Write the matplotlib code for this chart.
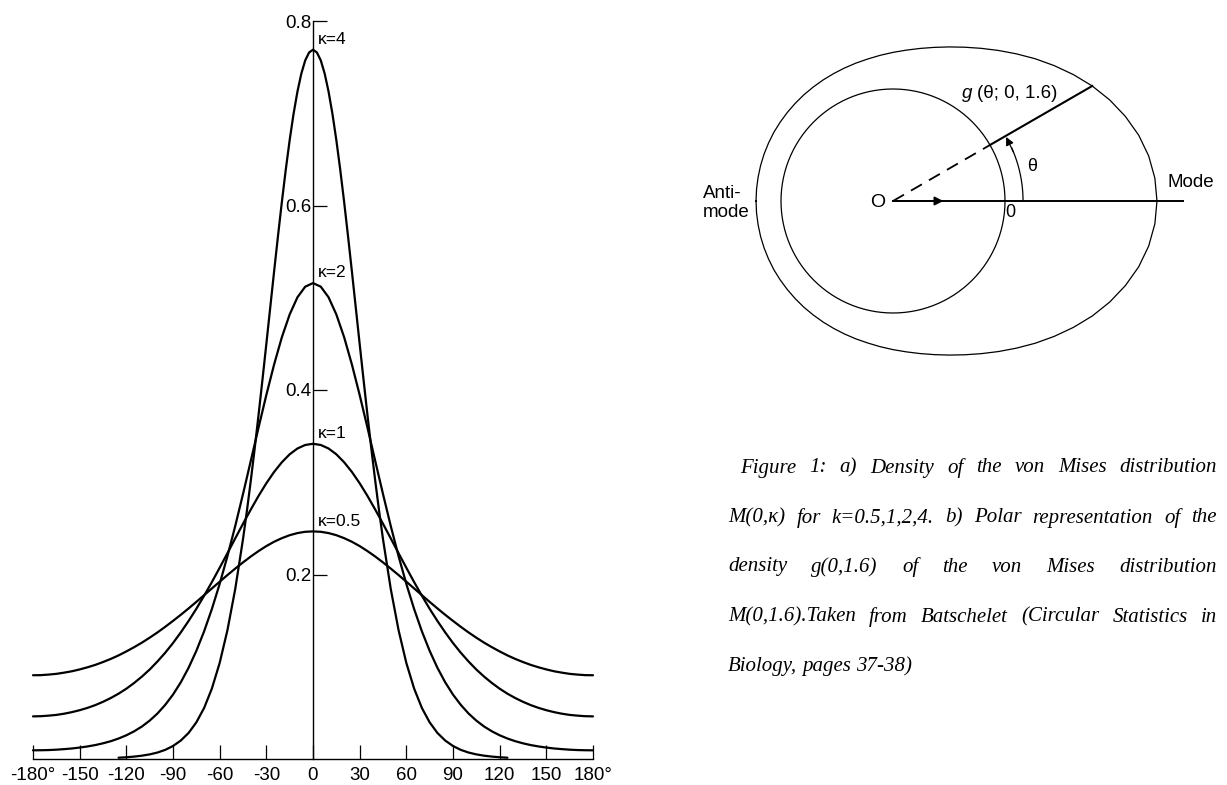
import numpy as np
import matplotlib
matplotlib.use('Agg')
import matplotlib.pyplot as plt

# ---------------- data ----------------
# a) von Mises densities M(0, kappa); curves are symmetric, values for angles >= 0
angles_half = list(range(0, 185, 5))
dens_k05 = [0.2467, 0.2463, 0.2449, 0.2426, 0.2394, 0.2355, 0.2308, 0.2254, 0.2195, 0.2131,
            0.2064, 0.1994, 0.1922, 0.1849, 0.1776, 0.1703, 0.1632, 0.1563, 0.1497, 0.1433,
            0.1372, 0.1315, 0.1261, 0.1212, 0.1166, 0.1123, 0.1085, 0.1051, 0.1020, 0.0994,
            0.0971, 0.0951, 0.0936, 0.0923, 0.0915, 0.0909, 0.0908]
dens_k1 = [0.3417, 0.3404, 0.3366, 0.3303, 0.3217, 0.3112, 0.2989, 0.2852, 0.2704, 0.2550,
           0.2391, 0.2231, 0.2073, 0.1918, 0.1770, 0.1628, 0.1496, 0.1372, 0.1257, 0.1152,
           0.1057, 0.0970, 0.0893, 0.0824, 0.0762, 0.0708, 0.0661, 0.0620, 0.0584, 0.0554,
           0.0529, 0.0508, 0.0491, 0.0478, 0.0470, 0.0464, 0.0462]
dens_k2 = [0.5159, 0.5120, 0.5005, 0.4819, 0.4573, 0.4277, 0.3946, 0.3593, 0.3231, 0.2872,
           0.2525, 0.2199, 0.1898, 0.1626, 0.1384, 0.1172, 0.0988, 0.0831, 0.0698, 0.0587,
           0.0493, 0.0416, 0.0352, 0.0300, 0.0257, 0.0222, 0.0193, 0.0170, 0.0151, 0.0136,
           0.0124, 0.0114, 0.0107, 0.0101, 0.0097, 0.0095, 0.0094]
# kappa = 4 is read more densely near its sharp peak; it merges with the axis beyond 125 deg
angles_k4 = [0, 2.5, 5, 7.5, 10, 12.5, 15, 17.5, 20, 22.5, 25, 27.5, 30, 32.5, 35, 37.5, 40,
             42.5, 45, 50, 55, 60, 65, 70, 75, 80, 85, 90, 95, 100, 105, 110, 115, 120, 125]
dens_k4 = [0.7689, 0.7659, 0.7573, 0.7430, 0.7235, 0.6993, 0.6709, 0.6389, 0.6041, 0.5670,
           0.5286, 0.4893, 0.4499, 0.4110, 0.3730, 0.3364, 0.3016, 0.2688, 0.2383, 0.1842,
           0.1397, 0.1041, 0.0764, 0.0553, 0.0397, 0.0282, 0.0200, 0.0141, 0.0099, 0.0070,
           0.0050, 0.0036, 0.0026, 0.0019, 0.0014]
kappa_labels = ['κ=0.5', 'κ=1', 'κ=2', 'κ=4']

xticks = [-180, -150, -120, -90, -60, -30, 0, 30, 60, 90, 120, 150, 180]
xtick_labels = ['-180°', '-150', '-120', '-90', '-60', '-30', '0', '30', '60', '90',
                '120', '150', '180°']
yticks = [0.2, 0.4, 0.6, 0.8]
ytick_labels = ['0.2', '0.4', '0.6', '0.8']

# b) polar representation: outer curve radius (inner circle radius = 1), 0..180 deg every 5 deg
polar_angles_half = list(range(0, 185, 5))
outer_r_half = [2.357, 2.347, 2.318, 2.271, 2.208, 2.135, 2.054, 1.967, 1.880, 1.796,
                1.715, 1.641, 1.574, 1.515, 1.464, 1.420, 1.383, 1.352, 1.327, 1.306,
                1.288, 1.275, 1.264, 1.255, 1.248, 1.242, 1.238, 1.234, 1.231, 1.229,
                1.228, 1.226, 1.225, 1.224, 1.223, 1.223, 1.223]
inner_r = 1.0
theta_example = 30  # degrees

caption_lines = [
    "Figure 1: a) Density of the von Mises distribution",
    "M(0,κ) for k=0.5,1,2,4. b) Polar representation of the",
    "density g(0,1.6) of the von Mises distribution",
    "M(0,1.6).Taken from Batschelet (Circular Statistics in",
    "Biology, pages 37-38)",
]

# ---------------- figure ----------------
plt.rcParams['font.family'] = ['Liberation Sans', 'DejaVu Sans']
W, H = 1227, 785
fig = plt.figure(figsize=(W / 100, H / 100), dpi=100)


def px_rect(x0, y0, x1, y1):
    return [x0 / W, 1 - y1 / H, (x1 - x0) / W, (y1 - y0) / H]


def mirror(v):
    v = np.asarray(v, float)
    return np.concatenate([v[:0:-1], v])


def mirror_angles(a):
    a = np.asarray(a, float)
    return np.concatenate([-a[:0:-1], a])


# ---- left panel ----
ax = fig.add_axes(px_rect(33, 21, 593, 759))
curves = [(angles_half, dens_k05), (angles_half, dens_k1), (angles_half, dens_k2),
          (angles_k4, dens_k4)]
for (a, d), lab in zip(curves, kappa_labels):
    ax.plot(mirror_angles(a), mirror(d), color='black', lw=1.6, clip_on=False,
            solid_joinstyle='round', solid_capstyle='round')
    ax.annotate(lab, xy=(0, max(d)), xytext=(3.2, 7.5), textcoords='offset points',
                ha='left', va='center', fontsize=12.5)

ax.set_xlim(-180, 180)
ax.set_ylim(0, 0.8)
ax.spines['top'].set_visible(False)
ax.spines['right'].set_visible(False)
ax.spines['left'].set_position(('data', 0))
ax.spines['left'].set_linewidth(1.0)
ax.spines['bottom'].set_linewidth(1.0)
ax.set_xticks(xticks)
ax.set_xticklabels(xtick_labels)
ax.set_yticks(yticks)
ax.set_yticklabels(ytick_labels)
ax.tick_params(axis='both', direction='in', length=10, width=0.9, labelsize=13.5)
ax.tick_params(axis='y', pad=1.0)
ax.tick_params(axis='x', pad=6)
ax.patch.set_visible(False)

# ---- right panel: polar representation ----
ax2 = fig.add_axes(px_rect(690, 0, 1227, 400))
u = 112.0
ax2.set_xlim((690 - 893) / u, (1227 - 893) / u)
ax2.set_ylim((201 - 400) / u, 201 / u)
ax2.axis('off')

t = np.linspace(0, 2 * np.pi, 361)
ax2.plot(inner_r * np.cos(t), inner_r * np.sin(t), color='black', lw=0.9)

pa_full = np.deg2rad(mirror_angles(polar_angles_half))
r_full = mirror(outer_r_half)
ax2.plot(r_full * np.cos(pa_full), r_full * np.sin(pa_full), color='black', lw=0.9,
         solid_joinstyle='round')

# mode line with arrow
ax2.plot([0, 2.589], [0, 0], color='black', lw=1.4)
ax2.annotate('', xy=(0.45, 0), xytext=(0.0, 0),
             arrowprops=dict(arrowstyle='-|>', color='black', lw=1.2, mutation_scale=13,
                             shrinkA=0, shrinkB=0))

th = np.deg2rad(theta_example)
r_out = outer_r_half[polar_angles_half.index(theta_example)]
ax2.plot([0, inner_r * np.cos(th)], [0, inner_r * np.sin(th)], color='black', lw=1.3,
         ls=(0, (7, 4.5)))
ax2.plot([inner_r * np.cos(th), r_out * np.cos(th)], [inner_r * np.sin(th), r_out * np.sin(th)],
         color='black', lw=1.5)

# theta arc with arrow
R = 1.161
ta = np.deg2rad(np.linspace(0, 24, 40))
ax2.plot(R * np.cos(ta), R * np.sin(ta), color='black', lw=0.9)
a1, a2 = np.deg2rad(22), np.deg2rad(theta_example - 0.5)
ax2.annotate('', xy=(R * np.cos(a2), R * np.sin(a2)), xytext=(R * np.cos(a1), R * np.sin(a1)),
             arrowprops=dict(arrowstyle='-|>', color='black', lw=0.9, mutation_scale=12,
                             shrinkA=0, shrinkB=0))

ax2.text(-0.134, -0.01, 'O', ha='center', va='center', fontsize=14)
ax2.text(-1.696, 0.071, 'Anti-', ha='left', va='center', fontsize=13.5)
ax2.text(-1.696, -0.107, 'mode', ha='left', va='center', fontsize=13.5)
ax2.text(2.455, 0.161, 'Mode', ha='left', va='center', fontsize=13.5)
ax2.text(1.045, -0.107, '0', ha='center', va='center', fontsize=13)
ax2.text(1.241, 0.304, 'θ', ha='center', va='center', fontsize=13)
ax2.text(0.616, 0.964, 'g', ha='left', va='center', fontsize=13.5, style='italic')
ax2.text(0.75, 0.964, '(θ; 0, 1.6)', ha='left', va='center', fontsize=13.5)

# ---- caption (justified, italic serif) ----
fig.canvas.draw()
renderer = fig.canvas.get_renderer()
cap_size = 15
cap_font = dict(fontsize=cap_size, family=['Liberation Serif', 'DejaVu Serif'], style='italic',
                va='center', ha='left')
line_y = [468, 518, 567, 617, 667]
line_x0 = [740, 728, 728, 728, 728]
x_right = 1217
for i, (line, ypx, x0) in enumerate(zip(caption_lines, line_y, line_x0)):
    words = line.split(' ')
    objs = [fig.text(0, 0, w, **cap_font) for w in words]
    widths = [o.get_window_extent(renderer).width for o in objs]
    last = (i == len(caption_lines) - 1)
    if not last and len(words) > 1:
        gap = (x_right - x0 - sum(widths)) / (len(words) - 1)
    else:
        gap = 0.25 * cap_size * 100 / 72
    xc = x0
    for o, w in zip(objs, widths):
        o.set_position((xc / W, 1 - ypx / H))
        xc += w + gap

fig.savefig('out.png', dpi=100, facecolor='white')
